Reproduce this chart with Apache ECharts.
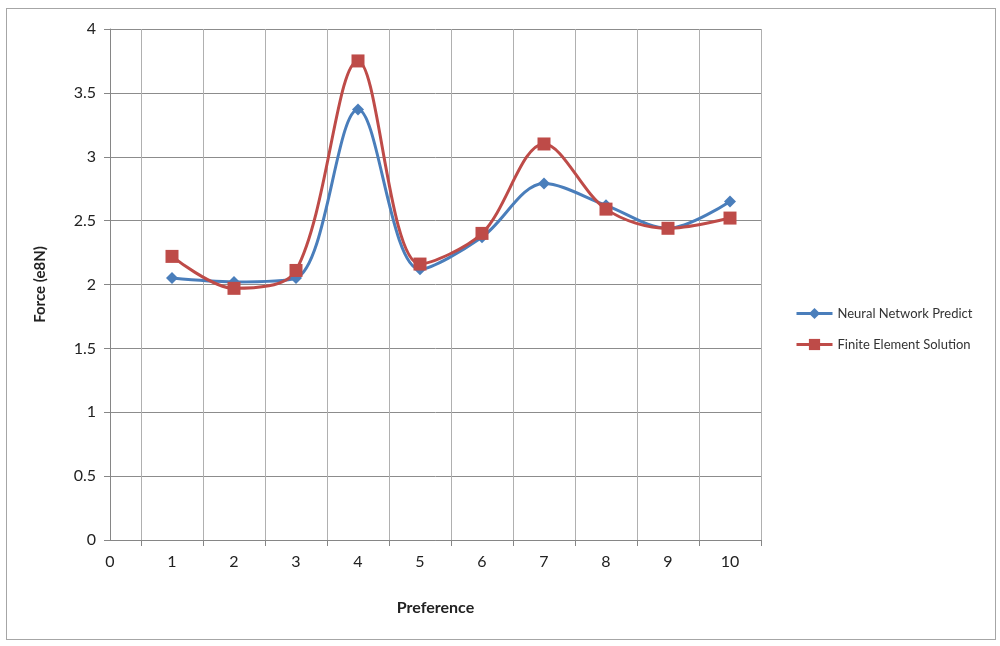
<!DOCTYPE html>
<html><head><meta charset="utf-8">
<script src="https://cdn.jsdelivr.net/npm/echarts@6/dist/echarts.min.js"></script>
<style>html,body{margin:0;padding:0;background:#fff}#frame{position:absolute;left:6px;top:8px;width:988px;height:630px;border:1px solid #a6a6a6}#c{position:absolute;left:0;top:0;width:1000px;height:646px}</style>
</head><body><div id="frame"></div><div id="c"></div>
<script>
const preference = [1, 2, 3, 4, 5, 6, 7, 8, 9, 10];
const neuralNetwork = [2.05, 2.02, 2.05, 3.37, 2.12, 2.37, 2.79, 2.62, 2.44, 2.65];
const finiteElement = [2.22, 1.97, 2.11, 3.75, 2.16, 2.40, 3.10, 2.59, 2.44, 2.52];
const xLabels = [0, 1, 2, 3, 4, 5, 6, 7, 8, 9, 10];
const xTicks = [0.5, 1.5, 2.5, 3.5, 4.5, 5.5, 6.5, 7.5, 8.5, 9.5, 10.5];

const font = 'Lato, "Open Sans", sans-serif';
const chart = echarts.init(document.getElementById('c'));
chart.setOption({
  animation: false,
  grid: {left: 110, right: 239, top: 29, bottom: 106},
  legend: {
    orient: 'vertical', left: 790, top: 302, itemGap: 18,
    itemWidth: 36, itemHeight: 14,
    lineStyle: {width: 3},
    textStyle: {fontFamily: font, fontSize: 13, color: '#333'},
    data: ['Neural Network Predict', 'Finite Element Solution']
  },
  xAxis: {
    type: 'value', min: 0, max: 10.5, interval: 0.5,
    name: 'Preference', nameLocation: 'middle', nameGap: 60,
    nameTextStyle: {fontFamily: font, fontSize: 16, fontWeight: 'bold', color: '#222'},
    axisLine: {lineStyle: {color: '#868686'}},
    axisTick: {show: true, length: 6, lineStyle: {color: '#868686'}, customValues: xTicks},
    axisLabel: {customValues: xLabels, fontFamily: font, fontSize: 16, color: '#222', margin: 14},
    splitLine: {show: true, lineStyle: {color: '#b0b0b0'}}
  },
  yAxis: {
    type: 'value', min: 0, max: 4, interval: 0.5,
    name: 'Force (e8N)', nameLocation: 'middle', nameGap: 62, nameRotate: 90,
    nameTextStyle: {fontFamily: font, fontSize: 15, fontWeight: 'bold', color: '#222'},
    axisLine: {show: true, lineStyle: {color: '#868686'}},
    axisTick: {show: true, length: 6, lineStyle: {color: '#868686'}},
    axisLabel: {fontFamily: font, fontSize: 16, color: '#222', margin: 14},
    splitLine: {show: true, lineStyle: {color: '#8c8c8c'}}
  },
  series: [
    {
      name: 'Neural Network Predict', type: 'line', smooth: 0.33,
      data: preference.map((p, i) => [p, neuralNetwork[i]]),
      symbol: 'diamond', symbolSize: 12,
      lineStyle: {width: 3, color: '#4a7ebb'},
      itemStyle: {color: '#4a7ebb'}
    },
    {
      name: 'Finite Element Solution', type: 'line', smooth: 0.33,
      data: preference.map((p, i) => [p, finiteElement[i]]),
      symbol: 'rect', symbolSize: 13,
      lineStyle: {width: 3, color: '#be4b48'},
      itemStyle: {color: '#be4b48'}
    }
  ]
});
</script></body></html>
